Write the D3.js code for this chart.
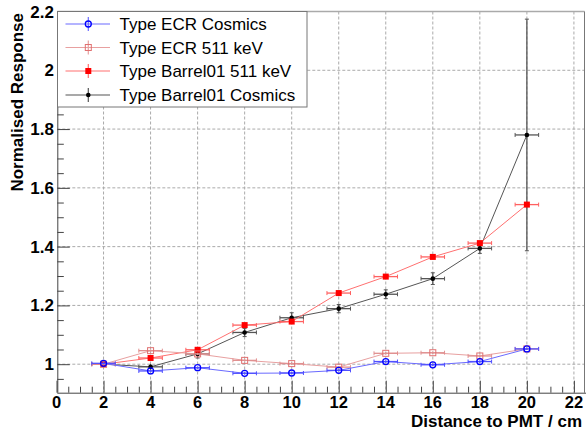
<!DOCTYPE html>
<html><head><meta charset="utf-8">
<script src="https://cdn.jsdelivr.net/npm/d3@7"></script>
<style>body{margin:0;background:#fff}svg{display:block}</style>
</head><body>
<svg id="c" width="587" height="432"></svg>
<script>
const distances = [2,4,6,8,10,12,14,16,18,20];
const ecrCosmics = [1.003,0.977,0.988,0.969,0.970,0.979,1.009,0.998,1.009,1.052];
const ecr511 = [1.000,1.046,1.035,1.013,1.002,0.990,1.037,1.039,1.028,1.052];
const barrel511 = [1.000,1.021,1.049,1.133,1.145,1.242,1.298,1.365,1.412,1.543];
const barrelCosmics = [1.000,0.991,1.035,1.108,1.158,1.189,1.238,1.291,1.394,1.780];
const barrelCosmicsErr = [0.010,0.010,0.014,0.014,0.017,0.014,0.015,0.020,0.017,0.394];
const smallErr = [0.004,0.004,0.004,0.004,0.004,0.004,0.004,0.004,0.004,0.004];
const xErr = 0.5;
const xTicks = [0,2,4,6,8,10,12,14,16,18,20,22];
const yTicks = [1,1.2,1.4,1.6,1.8,2,2.2];
const yTickLabels = ["1","1.2","1.4","1.6","1.8","2","2.2"];
const seriesNames = ["Type ECR Cosmics","Type ECR 511 keV","Type Barrel01 511 keV","Type Barrel01 Cosmics"];

const svg = d3.select("#c");
const L = 57.3, R = 584.5, T = 11.5, B = 392.7;
const x = d3.scaleLinear().domain([0,22.45]).range([56.5,584.5]);
const y = d3.scaleLinear().domain([0.903,2.2]).range([B,T]);
const FONT = "Liberation Sans, Arial, sans-serif";

// grid
const g = svg.append("g");
g.selectAll(".gx").data(xTicks.filter(d=>d>0)).enter().append("line")
  .attr("x1",d=>x(d)).attr("x2",d=>x(d)).attr("y1",T).attr("y2",B)
  .attr("stroke","#aaa").attr("stroke-dasharray","3,2").attr("stroke-width",1);
g.selectAll(".gy").data(yTicks.filter(d=>d<2.2)).enter().append("line")
  .attr("x1",L).attr("x2",R).attr("y1",d=>y(d)).attr("y2",d=>y(d))
  .attr("stroke","#aaa").attr("stroke-dasharray","3,2").attr("stroke-width",1);

// frame top/right
svg.append("line").attr("x1",L).attr("x2",R).attr("y1",T).attr("y2",T).attr("stroke","#aaa").attr("stroke-width",1.5);
svg.append("line").attr("x1",R).attr("x2",R).attr("y1",T).attr("y2",B).attr("stroke","#777").attr("stroke-width",1);

// axes
const xAxis = d3.axisBottom(x).tickValues(d3.range(0,22.45,0.5)).tickSize(6).tickFormat("");
const gx = svg.append("g").attr("transform",`translate(0,${B})`).call(xAxis);
gx.selectAll(".tick line").attr("y2",0).attr("y1",d=>(Math.abs(d%2)<1e-9)?-12:-6).attr("stroke","#444");
gx.select(".domain").attr("d",`M${L},0.5H586`).attr("stroke","#444");
svg.append("g").selectAll("text").data(xTicks).enter().append("text")
  .attr("x",d=>x(d)).attr("y",407.5).attr("text-anchor","middle")
  .attr("font-family",FONT).attr("font-weight","bold").attr("font-size",16.5)
  .text(d=>d);

const yAxis = d3.axisLeft(y).tickValues(d3.range(0.95,2.2001,0.05)).tickFormat("");
const gy = svg.append("g").attr("transform",`translate(${L},0)`).call(yAxis);
gy.selectAll(".tick line").attr("x2",0).attr("x1",d=>(Math.abs(Math.round(d*5)-d*5)<1e-6)?12.5:6.5).attr("stroke","#444");
gy.select(".domain").attr("d",`M0.5,${T}V${B}`).attr("stroke","#444");
svg.append("g").selectAll("text").data(yTicks).enter().append("text")
  .attr("x",54).attr("y",d=>y(d)+6).attr("text-anchor","end")
  .attr("font-family",FONT).attr("font-weight","bold").attr("font-size",17)
  .text((d,i)=>yTickLabels[i]);

// titles
svg.append("text").attr("x",582).attr("y",427).attr("text-anchor","end")
  .attr("font-family",FONT).attr("font-weight","bold").attr("font-size",17)
  .text("Distance to PMT / cm");
svg.append("text").attr("transform","translate(23,13) rotate(-90)").attr("text-anchor","end")
  .attr("font-family",FONT).attr("font-weight","bold").attr("font-size",17)
  .text("Normalised Response");

// series
const series = [
  {name:seriesNames[3], vals:barrelCosmics, err:barrelCosmicsErr, line:"#555", bar:"#555", mk:"#000", shape:"dot"},
  {name:seriesNames[2], vals:barrel511, err:smallErr, line:"#ff7070", bar:"#ff6060", mk:"#ff0000", shape:"fsq"},
  {name:seriesNames[1], vals:ecr511, err:smallErr, line:"#e8a0a0", bar:"#e09090", mk:"#e07070", shape:"osq"},
  {name:seriesNames[0], vals:ecrCosmics, err:smallErr, line:"#6a6aff", bar:"#5050ff", mk:"#0000ff", shape:"oc"}
];
const line = d3.line().x(d=>x(d[0])).y(d=>y(d[1]));
function drawMarker(sel, s, cx, cy){
  if(s.shape==="dot") sel.append("circle").attr("cx",cx).attr("cy",cy).attr("r",2.3).attr("fill",s.mk);
  else if(s.shape==="fsq") sel.append("rect").attr("x",cx-3).attr("y",cy-3).attr("width",6).attr("height",6).attr("fill",s.mk);
  else if(s.shape==="osq") sel.append("rect").attr("x",cx-3).attr("y",cy-3).attr("width",6).attr("height",6).attr("fill","none").attr("stroke",s.mk).attr("stroke-width",1);
  else sel.append("circle").attr("cx",cx).attr("cy",cy).attr("r",3).attr("fill","none").attr("stroke",s.mk).attr("stroke-width",1.3);
}
const plot = svg.append("g");
series.forEach(s=>{
  const gs = plot.append("g");
  const pts = distances.map((d,i)=>[d,s.vals[i]]);
  gs.append("path").attr("d",line(pts)).attr("fill","none").attr("stroke",s.line).attr("stroke-width",1);
  pts.forEach((p,i)=>{
    const cx=x(p[0]), cy=y(p[1]);
    const x0=x(p[0]-xErr), x1=x(p[0]+xErr);
    const y0=y(p[1]-s.err[i]), y1=y(p[1]+s.err[i]);
    gs.append("line").attr("x1",x0).attr("x2",x1).attr("y1",cy).attr("y2",cy).attr("stroke",s.bar).attr("stroke-width",1.3);
    gs.append("line").attr("x1",x0).attr("x2",x0).attr("y1",cy-2).attr("y2",cy+2).attr("stroke",s.bar);
    gs.append("line").attr("x1",x1).attr("x2",x1).attr("y1",cy-2).attr("y2",cy+2).attr("stroke",s.bar);
    gs.append("line").attr("x1",cx).attr("x2",cx).attr("y1",y0).attr("y2",y1).attr("stroke",s.bar).attr("stroke-width",1.3);
    if(Math.abs(y0-y1)>6){
      gs.append("line").attr("x1",cx-2).attr("x2",cx+2).attr("y1",y0).attr("y2",y0).attr("stroke",s.bar);
      gs.append("line").attr("x1",cx-2).attr("x2",cx+2).attr("y1",y1).attr("y2",y1).attr("stroke",s.bar);
    }
    drawMarker(gs,s,cx,cy);
  });
});

// legend
const lg = svg.append("g");
lg.append("rect").attr("x",57.5).attr("y",11.5).attr("width",249.5).attr("height",95.5).attr("fill","#fff").attr("stroke","#777");
const legOrder = [series[3],series[2],series[1],series[0]];
const legY = [24,47.5,71,95];
legOrder.forEach((s,i)=>{
  const cy = legY[i];
  lg.append("line").attr("x1",65.5).attr("x2",110).attr("y1",cy).attr("y2",cy).attr("stroke",s.line).attr("stroke-width",1.2);
  lg.append("line").attr("x1",88.3).attr("x2",88.3).attr("y1",cy-7).attr("y2",cy+7).attr("stroke",s.line).attr("stroke-width",1.2);
  drawMarker(lg,s,88.3,cy);
  lg.append("text").attr("x",119.5).attr("y",cy+6).attr("font-family",FONT).attr("font-size",17).attr("fill","#000").text(s.name);
});
</script>
</body></html>
